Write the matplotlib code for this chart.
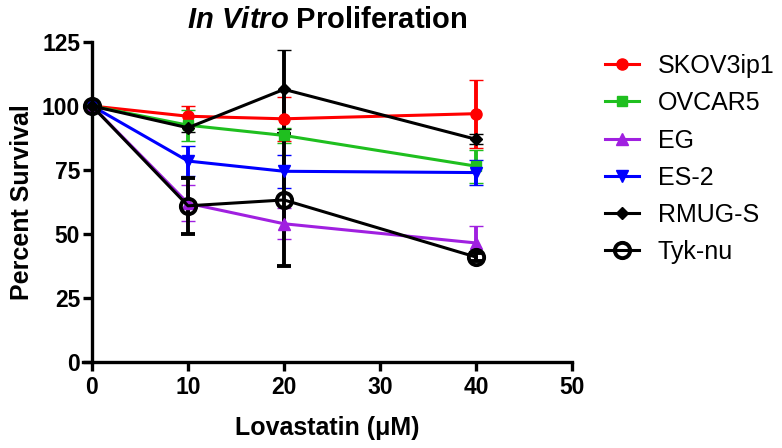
import matplotlib.pyplot as plt

plt.rcParams['font.family'] = ['Liberation Sans', 'DejaVu Sans']
plt.rcParams['mathtext.fontset'] = 'custom'
plt.rcParams['mathtext.it'] = 'Liberation Sans:italic:bold'
plt.rcParams['mathtext.rm'] = 'Liberation Sans:bold'

conc = [0, 10, 20, 40]

skov = [100, 96, 95, 97]
skov_err = [0, 4, 8.5, 13.3]
ovcar = [100, 92.5, 88.5, 76.5]
ovcar_err = [0, 6, 3, 6.5]
eg = [100, 62, 54, 46.5]
eg_err = [0, 7, 6, 6.6]
es2 = [100, 78.5, 74.5, 74]
es2_err = [0, 6, 6.5, 5]
rmug = [100, 91.5, 106.5, 87]
rmug_err = [0, 1.5, 15.5, 2]
tyk = [100, 61, 63.3, 41]
tyk_err = [0, 11, 25.8, 1.5]

labels = ["SKOV3ip1", "OVCAR5", "EG", "ES-2", "RMUG-S", "Tyk-nu"]

fig = plt.figure(figsize=(7.82, 4.48), dpi=100)
# axes box starts a little left of x=0 so the x axis line overhangs like the original
ax = fig.add_axes([83 / 782, 1 - 362 / 448, 489 / 782, 320 / 448])

series = [
    (skov, skov_err, "#ff0000", "o", 8, "#ff0000", 1),
    (ovcar, ovcar_err, "#1fbf1f", "s", 7.5, "#1fbf1f", 1),
    (eg, eg_err, "#a020e0", "^", 8, "#a020e0", 1),
    (es2, es2_err, "#0000ff", "v", 8, "#0000ff", 1),
    (rmug, rmug_err, "#000000", "D", 6, "#000000", 1),
    (tyk, tyk_err, "#000000", "o", 11, "none", 2.8),
]

for (vals, err, col, mk, ms, fc, mew), lab in zip(series, labels):
    ax.errorbar(conc, vals, yerr=err, color=col, marker=mk, markersize=ms,
                markerfacecolor=fc, markeredgecolor=col, markeredgewidth=mew,
                linewidth=2.2, elinewidth=2.8, capsize=5, capthick=2.8,
                label=lab, clip_on=False)

ax.set_xlim(-0.9375, 50)
ax.set_ylim(0, 125)
ax.set_xticks([0, 10, 20, 30, 40, 50])
ax.set_yticks([0, 25, 50, 75, 100, 125])
ax.spines['top'].set_visible(False)
ax.spines['right'].set_visible(False)
ax.spines['left'].set_position(('data', 0))
for s in ['left', 'bottom']:
    ax.spines[s].set_linewidth(2.4)
ax.tick_params(width=2.4, length=6.5, labelsize=16.5)
ax.tick_params(axis='y', pad=2)
ax.tick_params(axis='x', pad=3.5)
for t in ax.get_xticklabels() + ax.get_yticklabels():
    t.set_fontweight('bold')

ax.set_xlabel("Lovastatin (\u03bcM)", fontsize=18, fontweight='bold', labelpad=12)
ax.set_ylabel("Percent Survival", fontsize=18, fontweight='bold')
ax.yaxis.set_label_coords(-0.1, 0.5)
ax.set_title(r"$In\ Vitro$ Proliferation", fontsize=21,
             fontweight='bold', pad=10)

handles, labs = ax.get_legend_handles_labels()
handles = [h[0] for h in handles]
fig.legend(handles, labs, loc='upper left', bbox_to_anchor=(595 / 782, 1 - 44 / 448),
           frameon=False, fontsize=18, handlelength=1.36, handletextpad=0.75,
           labelspacing=0.53, borderaxespad=0)

plt.savefig("out.png")
